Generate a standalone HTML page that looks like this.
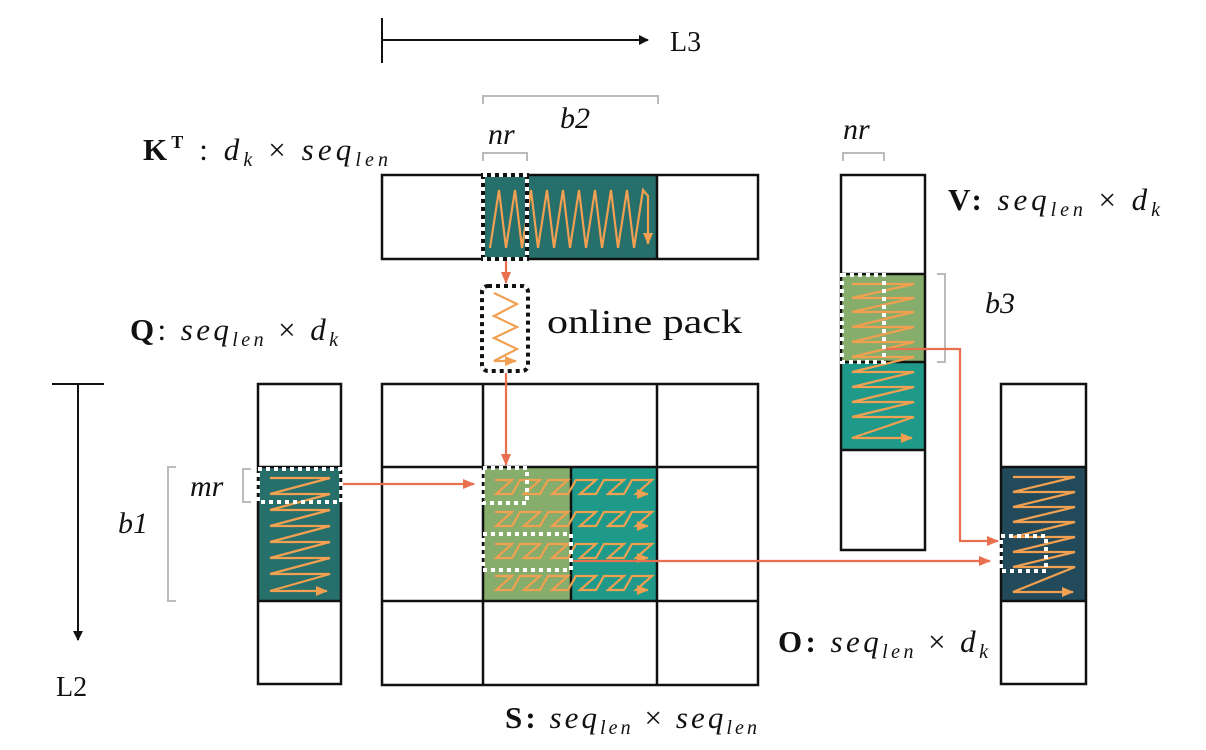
<!DOCTYPE html>
<html><head><meta charset="utf-8"><style>
body{margin:0;background:#fff}
svg{display:block}
text{font-family:"Liberation Serif",serif;fill:#111}
.i{font-style:italic}
</style></head><body>
<svg width="1206" height="750" viewBox="0 0 1206 750" xmlns="http://www.w3.org/2000/svg">
<defs>
<marker id="ab" markerWidth="10" markerHeight="10" refX="9" refY="5" orient="auto" markerUnits="userSpaceOnUse"><path d="M0,0 L10,5 L0,10 z" fill="#111"/></marker>
<marker id="ar" markerWidth="12" markerHeight="10" refX="11" refY="5" orient="auto" markerUnits="userSpaceOnUse"><path d="M0,0 L12,5 L0,10 z" fill="#e8704f"/></marker>
<marker id="ao" markerWidth="12" markerHeight="10" refX="11" refY="5" orient="auto" markerUnits="userSpaceOnUse"><path d="M0,0 L12,5 L0,10 z" fill="#f0a050"/></marker>
</defs>

<line x1="382" y1="18" x2="382" y2="63" stroke="#111" stroke-width="2"/>
<line x1="382" y1="40" x2="648" y2="40" stroke="#111" stroke-width="2" marker-end="url(#ab)"/>
<text x="670" y="51" font-size="28">L3</text>
<line x1="52" y1="384" x2="104" y2="384" stroke="#111" stroke-width="2"/>
<line x1="78" y1="384" x2="78" y2="640" stroke="#111" stroke-width="2" marker-end="url(#ab)"/>
<text x="56" y="696" font-size="28">L2</text>

<g stroke="#bbb" stroke-width="2" fill="none">
<path d="M483,104 V96 H658 V104"/>
<path d="M483,161 V153 H527 V161"/>
<path d="M843,161 V153 H884 V161"/>
<path d="M937,274 H945 V362 H937"/>
<path d="M176,467 H168 V601 H176"/>
<path d="M251,469 H243 V502 H251"/>
</g>

<text x="143" y="160" font-size="31" textLength="245" lengthAdjust="spacing"><tspan font-weight="bold">K</tspan><tspan font-weight="bold" font-size="18" dy="-12">T</tspan><tspan dy="12"> : </tspan><tspan class="i">d</tspan><tspan class="i" font-size="20" dy="6">k</tspan><tspan dy="-6"> × </tspan><tspan class="i">seq</tspan><tspan class="i" font-size="20" dy="6">len</tspan></text>
<text x="488" y="144" font-size="30" class="i">nr</text>
<text x="560" y="128" font-size="30" class="i">b2</text>
<text x="843" y="139" font-size="30" class="i">nr</text>
<text x="948" y="210" font-size="31" textLength="212" lengthAdjust="spacing"><tspan font-weight="bold">V:</tspan> <tspan class="i">seq</tspan><tspan class="i" font-size="20" dy="6">len</tspan><tspan dy="-6"> × </tspan><tspan class="i">d</tspan><tspan class="i" font-size="20" dy="6">k</tspan></text>
<text x="985" y="313" font-size="30" class="i">b3</text>
<text x="547" y="333" font-size="34" textLength="195" lengthAdjust="spacingAndGlyphs">online pack</text>
<text x="130" y="340" font-size="31" textLength="208" lengthAdjust="spacing"><tspan font-weight="bold">Q</tspan>: <tspan class="i">seq</tspan><tspan class="i" font-size="20" dy="6">len</tspan><tspan dy="-6"> × </tspan><tspan class="i">d</tspan><tspan class="i" font-size="20" dy="6">k</tspan></text>
<text x="190" y="496" font-size="30" class="i">mr</text>
<text x="118" y="533" font-size="30" class="i">b1</text>
<text x="778" y="652" font-size="31" textLength="210" lengthAdjust="spacing"><tspan font-weight="bold">O:</tspan> <tspan class="i">seq</tspan><tspan class="i" font-size="20" dy="6">len</tspan><tspan dy="-6"> × </tspan><tspan class="i">d</tspan><tspan class="i" font-size="20" dy="6">k</tspan></text>
<text x="505" y="728" font-size="31" textLength="252" lengthAdjust="spacing"><tspan font-weight="bold">S:</tspan> <tspan class="i">seq</tspan><tspan class="i" font-size="20" dy="6">len</tspan><tspan dy="-6"> × </tspan><tspan class="i">seq</tspan><tspan class="i" font-size="20" dy="6">len</tspan></text>

<rect x="483" y="175" width="174" height="84" fill="#266f6b"/>
<rect x="258" y="467" width="83" height="134" fill="#266f6b"/>
<rect x="483" y="467" width="88" height="134" fill="#86ad6c"/>
<rect x="571" y="467" width="86" height="134" fill="#1f9a8a"/>
<rect x="841" y="274" width="84" height="88" fill="#86ad6c"/>
<rect x="841" y="362" width="84" height="88" fill="#1f9a8a"/>
<rect x="1001" y="467" width="85" height="134" fill="#234a5a"/>

<g stroke="#111" stroke-width="2.5" fill="none">
<rect x="382" y="175" width="376" height="84"/>
<line x1="483" y1="175" x2="483" y2="259"/><line x1="657" y1="175" x2="657" y2="259"/>
<rect x="258" y="384" width="83" height="300"/>
<line x1="258" y1="467" x2="341" y2="467"/><line x1="258" y1="601" x2="341" y2="601"/>
<rect x="382" y="384" width="376" height="301"/>
<line x1="483" y1="384" x2="483" y2="685"/><line x1="657" y1="384" x2="657" y2="685"/>
<line x1="382" y1="467" x2="758" y2="467"/><line x1="382" y1="601" x2="758" y2="601"/>
<line x1="571" y1="467" x2="571" y2="601"/>
<rect x="841" y="175" width="84" height="375"/>
<line x1="841" y1="274" x2="925" y2="274"/><line x1="841" y1="362" x2="925" y2="362"/><line x1="841" y1="450" x2="925" y2="450"/>
<rect x="1001" y="384" width="85" height="300"/>
<line x1="1001" y1="467" x2="1086" y2="467"/><line x1="1001" y1="601" x2="1086" y2="601"/>
</g>

<g stroke="#f0a050" stroke-width="2.2" fill="none" stroke-linejoin="miter">
<polyline marker-end="url(#ao)" points="490,248 499,190 506,248 515,190 522,248 531,190 538,248 547,190 554,248 563,190 570,248 579,190 586,248 595,190 602,248 611,190 618,248 627,190 634,248 643,190 648,196 648,244"/>
<polyline marker-end="url(#ao)" points="494,293 517,304 494,316 517,327 494,338 517,349 494,361 516,361"/>
<polyline marker-end="url(#ao)" points="270,478 330,478 270,494 330,494 270,510 330,510 270,526 330,526 270,542 330,542 270,558 330,558 270,574 330,574 270,591 327,591"/>
<polyline marker-end="url(#ao)" points="852,284 914,284 852,298 914,298 852,312 914,312 852,327 914,327 852,342 914,342 852,357 914,357 852,372 914,372 852,387 914,387 852,402 914,402 852,417 914,417 852,438 912,438"/>
<polyline marker-end="url(#ao)" points="1013,477 1075,477 1013,492 1075,492 1013,507 1075,507 1013,522 1075,522 1013,537 1075,537 1013,552 1075,552 1013,567 1075,567 1013,592 1073,592"/>
<g id="zr">
<polyline marker-end="url(#ao)" points="495,480 512,480 496,494 512,494 520,480 540,480 524,494 540,494 548,480 568,480 552,494 568,494 576,480 596,480 580,494 596,494 604,480 624,480 608,494 624,494 632,480 652,480 636,494 648,494"/>
</g>
<use href="#zr" y="32"/>
<use href="#zr" y="64"/>
<use href="#zr" y="96"/>
</g>

<g stroke="#e8704f" stroke-width="2.2" fill="none">
<line x1="506" y1="259" x2="506" y2="283" marker-end="url(#ar)"/>
<line x1="506" y1="371" x2="506" y2="465" marker-end="url(#ar)"/>
<line x1="341" y1="484" x2="474" y2="484" marker-end="url(#ar)"/>
<line x1="571" y1="561" x2="990" y2="561" marker-end="url(#ar)"/>
<polyline points="885,349 960,349 960,541 998,541" marker-end="url(#ar)"/>
</g>

<g fill="none" stroke-width="4">
<g stroke="#111"><rect x="483" y="175" width="44" height="84"/><rect x="482" y="286" width="46" height="85" rx="6"/></g>
<g stroke="#fff" stroke-dasharray="4 4">
<rect x="483" y="175" width="44" height="84"/>
<rect x="258" y="469" width="83" height="33"/>
<rect x="483" y="468" width="44" height="35"/>
<rect x="483" y="534" width="88" height="36"/>
<rect x="842" y="275" width="42" height="87"/>
<rect x="1001" y="536" width="45" height="35"/>
</g>
<rect x="482" y="286" width="46" height="85" rx="6" stroke="#fff" stroke-dasharray="4 4" stroke-dashoffset="4"/>
</g>
</svg>
</body></html>
